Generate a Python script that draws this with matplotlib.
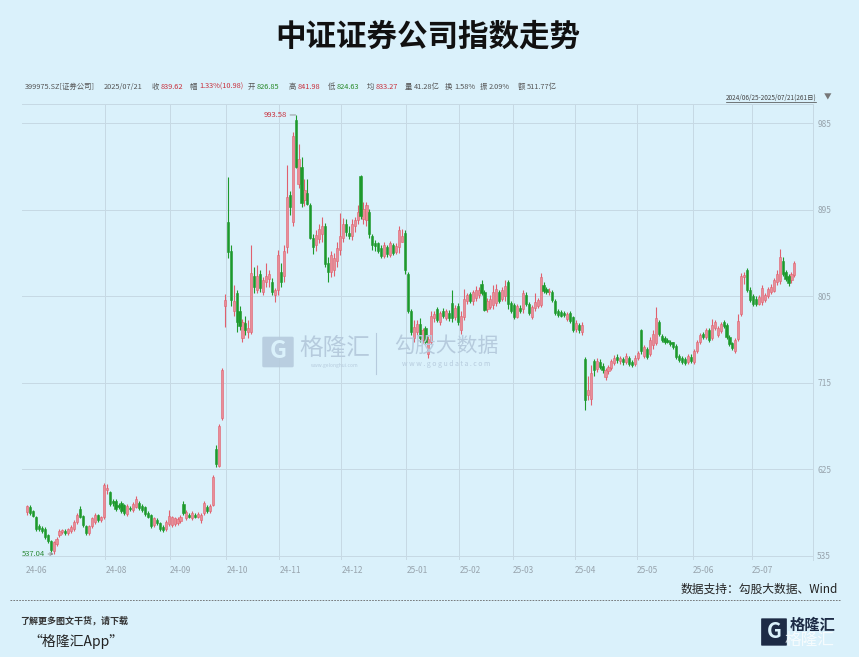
import numpy as np
import matplotlib
matplotlib.use('Agg')
import matplotlib.pyplot as plt
from matplotlib.patches import FancyBboxPatch
from matplotlib.lines import Line2D

plt.rcParams['font.family'] = ['Noto Sans CJK SC', 'DejaVu Sans']

# trading days per month, 2024/06/25 - 2025/07/21 (261 days)
month_labels = ['24-06', '24-07', '24-08', '24-09', '24-10', '24-11', '24-12',
                '25-01', '25-02', '25-03', '25-04', '25-05', '25-06', '25-07']
month_days = [4, 23, 22, 19, 18, 21, 22, 18, 18, 21, 21, 19, 20, 15]
hidden_labels = ['24-07']
price_ticks = [535, 625, 715, 805, 895, 985]

opens = [
    581, 586, 582, 576,
    566, 564, 563, 557, 551, 540, 547, 557, 560, 561, 559, 561, 563, 570, 584, 577, 566, 559, 566, 570, 578, 572, 575,
    604, 601, 592, 592, 588, 590, 588, 579, 585, 583, 586, 590, 587, 586, 580, 578, 567, 572, 569, 565, 563, 568,
    567, 568, 569, 571, 589, 574, 578, 574, 578, 576, 572, 580, 586, 582, 588, 646, 629, 678, 795,
    882, 852, 790, 808, 790, 762, 777, 768, 768, 826, 812, 828, 810, 820, 823, 820, 806, 812,
    830, 826, 856, 910, 882, 988, 922, 940, 905, 912, 900, 866, 858, 865, 870, 878, 840, 830, 832, 842, 853,
    866, 880, 871, 868, 878, 884, 930, 885, 884, 893, 868, 860, 860, 855, 847, 856, 848, 858, 851, 856, 862, 871,
    828, 790, 762, 768, 776, 760, 772, 745, 758, 782, 792, 778, 790, 782, 788, 798, 783, 795,
    770, 784, 800, 807, 800, 803, 806, 818, 810, 792, 794, 796, 798, 809, 802, 805, 820, 798,
    796, 784, 793, 792, 806, 797, 783, 793, 795, 796, 817, 813, 809, 810, 800, 790, 789, 788, 781, 788, 783,
    771, 775, 768, 740, 702, 698, 738, 729, 737, 733, 721, 727, 730, 736, 742, 738, 740, 737, 741, 737, 735,
    741, 770, 743, 750, 745, 754, 756, 778, 764, 762, 760, 758, 757, 753, 743, 741, 740, 737, 742,
    737, 748, 757, 766, 763, 770, 762, 772, 765, 769, 778, 775, 763, 756, 748, 761, 787, 825, 832, 812,
    805, 802, 797, 799, 801, 805, 809, 811, 820, 821, 842, 830, 826, 822, 826.85,
]
highs = [
    588, 588, 583, 577,
    568, 566, 565, 558, 552, 551, 555, 563, 563, 563, 564, 567, 572, 580, 587, 578, 567, 567, 576, 580, 579, 577, 611,
    610, 603, 594, 594, 590, 592, 589, 589, 587, 591, 597, 592, 589, 587, 582, 579, 576, 574, 570, 567, 572, 583,
    577, 576, 575, 578, 592, 583, 580, 582, 580, 581, 580, 592, 588, 589, 619, 650, 672, 730, 807,
    929, 858, 817, 812, 795, 781, 785, 780, 858, 836, 838, 832, 825, 840, 832, 824, 814, 853,
    840, 858, 942, 915, 976, 993.58, 963, 950, 927, 927, 902, 870, 874, 880, 888, 881, 846, 852, 850, 862, 892,
    886, 885, 878, 885, 888, 900, 931, 903, 903, 896, 870, 864, 862, 858, 861, 858, 863, 860, 860, 878, 875, 874,
    830, 792, 780, 780, 782, 772, 774, 764, 790, 790, 794, 790, 793, 792, 791, 812, 796, 798,
    790, 813, 808, 810, 812, 816, 815, 822, 812, 803, 806, 817, 818, 812, 815, 822, 822, 800,
    798, 797, 796, 812, 809, 799, 796, 808, 803, 829, 820, 815, 814, 812, 802, 792, 791, 790, 789, 790, 785,
    780, 777, 778, 742, 722, 734, 740, 741, 740, 736, 730, 734, 740, 744, 745, 743, 742, 746, 743, 739, 744,
    748, 771, 754, 752, 763, 770, 794, 780, 766, 764, 762, 760, 758, 755, 745, 743, 742, 745, 745,
    750, 760, 767, 768, 772, 772, 781, 780, 774, 778, 780, 777, 765, 758, 762, 787, 829, 830, 834, 815,
    807, 805, 806, 817, 808, 815, 818, 824, 832, 854, 846, 832, 828, 830, 841.98,
]
lows = [
    578, 578, 575, 561,
    561, 559, 553, 548, 539, 537.04, 545, 555, 558, 557, 557, 559, 561, 568, 574, 565, 557, 557, 564, 568, 570, 570, 573,
    599, 587, 587, 582, 584, 580, 578, 577, 582, 581, 585, 583, 581, 577, 574, 564, 565, 567, 561, 560, 561, 566,
    565, 566, 567, 569, 578, 572, 574, 572, 574, 574, 569, 578, 580, 580, 587, 628, 627, 676, 773,
    845, 795, 785, 768, 770, 758, 765, 762, 766, 808, 808, 810, 806, 815, 815, 806, 799, 806,
    815, 820, 850, 890, 878, 938, 918, 898, 899, 900, 865, 849, 852, 860, 862, 835, 820, 825, 826, 836, 848,
    862, 868, 865, 864, 872, 880, 885, 880, 878, 866, 853, 852, 850, 845, 845, 846, 846, 848, 849, 850, 862, 828,
    788, 765, 758, 765, 758, 756, 755, 741, 755, 778, 778, 775, 782, 780, 779, 778, 780, 775,
    766, 780, 797, 798, 796, 800, 803, 806, 790, 789, 792, 792, 795, 798, 800, 800, 792, 788,
    781, 782, 788, 788, 795, 786, 781, 790, 793, 794, 808, 807, 806, 799, 786, 784, 783, 783, 779, 777, 768,
    768, 767, 765, 687, 697, 692, 722, 726, 729, 725, 718, 724, 728, 734, 736, 735, 734, 735, 733, 731, 733,
    739, 745, 741, 740, 743, 750, 754, 764, 758, 755, 756, 753, 750, 740, 737, 735, 734, 735, 736,
    735, 746, 755, 761, 761, 758, 760, 770, 763, 767, 772, 761, 753, 749, 746, 759, 785, 818, 810, 799,
    795, 795, 796, 796, 799, 803, 807, 809, 817, 818, 826, 821, 816, 819, 824.63,
]
closes = [
    587, 580, 577, 563,
    563, 561, 555, 551, 541, 549, 553, 561, 562, 559, 563, 565, 570, 578, 576, 567, 559, 566, 574, 578, 572, 575, 609,
    606, 589, 590, 584, 586, 582, 580, 587, 584, 589, 594, 585, 583, 579, 576, 566, 574, 569, 563, 562, 570, 577,
    575, 574, 573, 576, 580, 581, 576, 580, 576, 579, 578, 590, 582, 587, 617, 631, 670, 728, 801,
    851, 801, 800, 778, 774, 778, 770, 772, 829, 815, 826, 814, 822, 826, 828, 810, 812, 848,
    820, 852, 908, 898, 972, 940, 948, 902, 916, 901, 866, 856, 869, 875, 878, 839, 830, 848, 845, 855, 868,
    880, 872, 868, 880, 884, 893, 889, 896, 900, 870, 858, 857, 852, 847, 858, 849, 860, 850, 857, 874, 868, 832,
    790, 768, 773, 776, 762, 770, 758, 761, 785, 787, 780, 788, 785, 790, 782, 782, 793, 778,
    785, 802, 806, 800, 810, 812, 812, 808, 791, 800, 802, 810, 813, 800, 812, 816, 797, 790,
    783, 795, 790, 808, 797, 788, 794, 799, 801, 825, 811, 810, 811, 801, 788, 786, 785, 786, 787, 779, 770,
    777, 770, 775, 697, 708, 725, 728, 738, 731, 728, 728, 731, 738, 741, 739, 741, 737, 743, 735, 734, 741,
    746, 748, 752, 742, 760, 766, 782, 766, 760, 757, 758, 755, 752, 742, 739, 737, 736, 743, 738,
    748, 758, 765, 763, 770, 760, 775, 778, 772, 776, 774, 763, 755, 751, 760, 779, 826, 827, 812, 801,
    797, 797, 804, 814, 806, 813, 815, 822, 828, 846, 828, 823, 819, 828.64, 839.62,
]

W, H = 859, 657
BG = '#daf1fb'
GRID = '#c6d9e4'
TICK = '#98a4ad'
RED = '#e0606e'
RED_FILL = '#ea8d97'
GREEN = '#1d9a2c'

o = np.array(opens, float)
h = np.array(highs, float)
l = np.array(lows, float)
c = np.array(closes, float)
x = np.arange(len(c))

fig = plt.figure(figsize=(W / 100, H / 100), dpi=100, facecolor=BG)
ax = fig.add_axes([22 / W, 1 - 560 / H, (813 - 22) / W, (560 - 104) / H], facecolor=BG)
ax.set_xlim(-1.7, 266.3)
ax.set_ylim(530.8, 1005)

# grid
for v in price_ticks:
    ax.axhline(v, color=GRID, lw=0.7, zorder=0)
starts = np.cumsum([0] + month_days[:-1])
tick_pos, tick_lab = [], []
for s, lab in zip(starts, month_labels):
    if lab in hidden_labels:
        continue
    tick_pos.append(s - 0.5)
    tick_lab.append(lab)
    if s > 0:
        ax.axvline(s - 0.5, color=GRID, lw=0.7, zorder=0)

# candles
up = c >= o
for mask, edge, face in [(up, RED, RED_FILL), (~up, GREEN, GREEN)]:
    ax.vlines(x[mask], l[mask], h[mask], color=edge, lw=0.8, zorder=2)
    body = np.maximum(np.abs(c[mask] - o[mask]), 0.9)
    ax.bar(x[mask], body, bottom=np.minimum(o[mask], c[mask]), width=0.72,
           color=face, edgecolor=edge, linewidth=0.4, zorder=3)

# axes style
ax.yaxis.tick_right()
ax.set_yticks(price_ticks)
ax.tick_params(axis='y', length=0, pad=3, labelsize=6, labelcolor=TICK)
ax.set_xticks(tick_pos)
ax.set_xticklabels(tick_lab)
ax.tick_params(axis='x', length=0, pad=4, labelsize=6, labelcolor=TICK)
for t in ax.get_xticklabels():
    t.set_ha('left')
for side in ['left', 'bottom']:
    ax.spines[side].set_visible(False)
for side in ['top', 'right']:
    ax.spines[side].set_color(GRID)
    ax.spines[side].set_linewidth(0.7)

# extreme labels
imax, imin = int(np.argmax(h)), int(np.argmin(l))
ax.annotate(f'{h[imax]:.2f}', xy=(imax, h[imax]), xytext=(-6, 0), textcoords='offset points',
            ha='right', va='center', fontsize=5.5, color='#c8303c',
            arrowprops=dict(arrowstyle='-', color='#888888', lw=0.6, shrinkA=0, shrinkB=0))
ax.annotate(f'{l[imin]:.2f}', xy=(imin, l[imin]), xytext=(-6, 0), textcoords='offset points',
            ha='right', va='center', fontsize=5.5, color='#2e8b3a',
            arrowprops=dict(arrowstyle='->', color='#888888', lw=0.6, shrinkA=0, shrinkB=0,
                            mutation_scale=5))


def ftext(px, py, s, **kw):
    return fig.text(px / W, 1 - py / H, s, **kw)


# title
ftext(428, 37, '中证证券公司指数走势', ha='center', va='center', fontsize=22, fontweight='bold', color='#111111')

# quote header
GRAY = '#555555'
HRED = '#c8303c'
HGREEN = '#2a8a2a'
header = [('399975.SZ[证券公司]', 25, GRAY), ('2025/07/21', 104, GRAY),
          ('收', 152, GRAY), ('839.62', 161, HRED), ('幅', 190, GRAY), ('1.33%(10.98)', 199, HRED),
          ('开', 248, GRAY), ('826.85', 257, HGREEN), ('高', 289, GRAY), ('841.98', 298, HRED),
          ('低', 328, GRAY), ('824.63', 337, HGREEN), ('均', 367, GRAY), ('833.27', 376, HRED),
          ('量', 405, GRAY), ('41.28亿', 414, GRAY), ('换', 445, GRAY), ('1.58%', 454, GRAY),
          ('振', 480, GRAY), ('2.09%', 489, GRAY), ('额', 518, GRAY), ('511.77亿', 527, GRAY)]
for s, px, col in header:
    ftext(px, 87, s, ha='left', va='center', fontsize=5.3, color=col)

ftext(726, 98, '2024/06/25-2025/07/21(261日)', ha='left', va='center', fontsize=4.6, color='#444444')
fig.add_artist(Line2D([726 / W, 816 / W], [1 - 101.5 / H] * 2, color='#444444', lw=0.5))
ftext(824, 98, '▼', ha='left', va='center', fontsize=5.5, color='#777777')

# watermark
WM = '#b6cbdd'
fig.add_artist(FancyBboxPatch((264 / W, 1 - 366 / H), 28 / W, 28 / H,
                              boxstyle='round,pad=0.002', fc=WM, ec='none', alpha=0.9, zorder=1))
ftext(278, 351, 'G', ha='center', va='center', fontsize=17, fontweight='bold', color=BG, zorder=2)
ftext(335, 348, '格隆汇', ha='center', va='center', fontsize=17, color=WM, zorder=1)
ftext(335, 365, 'www.gelonghui.com', ha='center', va='center', fontsize=3.5, color=WM, zorder=1)
fig.add_artist(Line2D([376 / W] * 2, [1 - 333 / H, 1 - 374 / H], color=WM, lw=0.8))
ftext(446, 346, '勾股大数据', ha='center', va='center', fontsize=15, color=WM, zorder=1)
ftext(446, 364, 'w w w . g o g u d a t a . c o m', ha='center', va='center', fontsize=5, color=WM, zorder=1)

# source + footer
ftext(838, 589, '数据支持：勾股大数据、Wind', ha='right', va='center', fontsize=8.5, color='#222222')
fig.add_artist(Line2D([10 / W, 840 / W], [1 - 599.5 / H] * 2, color='#666666', lw=0.6, ls=(0, (2, 1.5))))
ftext(20, 621, '了解更多图文干货，请下载', ha='left', va='center', fontsize=6.5, fontweight='bold',
      style='italic', color='#333333')
ftext(28, 641, '“格隆汇App”', ha='left', va='center', fontsize=10, style='italic', color='#222222')

# corner logo
NAVY = '#1d2b45'
fig.add_artist(FancyBboxPatch((762 / W, 1 - 645 / H), 24 / W, 26 / H,
                              boxstyle='round,pad=0.001', fc=NAVY, ec='none'))
ftext(774, 632, 'G', ha='center', va='center', fontsize=15, fontweight='bold', color=BG)
ftext(790, 625, '格隆汇', ha='left', va='center', fontsize=11, fontweight='bold', color=NAVY)
ftext(785, 640, '格隆汇', ha='left', va='center', fontsize=12, color='white', alpha=0.75)

fig.savefig('out.png', dpi=100, facecolor=BG)
